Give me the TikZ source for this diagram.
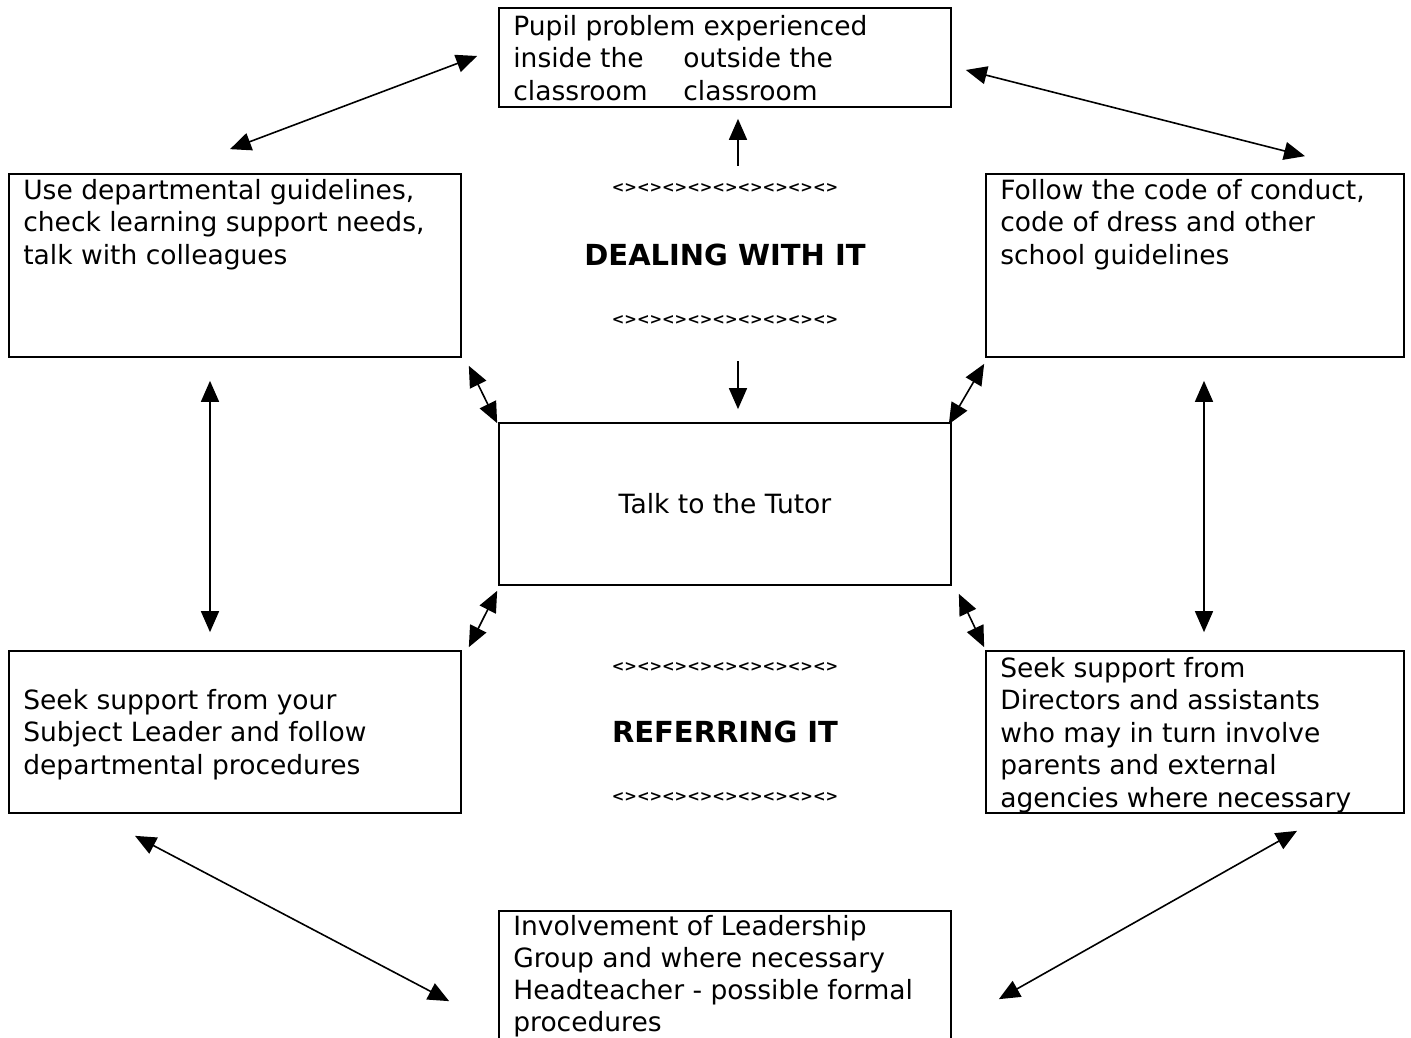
\documentclass[tikz,border=0pt]{standalone}
\usepackage{fontspec}
\setmainfont{DejaVu Sans}
\usetikzlibrary{arrows.meta,positioning}

\tikzset{
  panel/.style={draw, line width=1.7pt, inner sep=0pt, minimum width=452pt},
  txt/.style={inner sep=0pt, align=left, anchor=north west},
  heading/.style={inner sep=0pt, font=\fontsize{29}{32}\selectfont\bfseries},
  deco/.style={inner sep=0pt, font=\fontsize{15}{16}\selectfont\bfseries},
  link/.style={line width=1.6pt, {Triangle[length=21pt,width=18pt]}-{Triangle[length=21pt,width=18pt]}},
  oneway/.style={line width=1.6pt, -{Triangle[length=21pt,width=18pt]}}
}

\begin{document}
\begin{tikzpicture}[x=1pt, y=-1pt, font=\fontsize{26.5}{32.5}\selectfont]
  \useasboundingbox (0,0) rectangle (1411,1038);

  % boxes
  \node[panel, minimum height=99pt] (pupil) at (725,57.5) {};
  \node[panel, minimum height=183pt] (guides) at (235,265.5) {};
  \node[panel, minimum height=183pt, minimum width=418pt] (conduct) at (1195,265.5) {};
  \node[panel, minimum height=162pt] (tutor) at (725,504) {Talk to the Tutor};
  \node[panel, minimum height=162pt] (subject) at (235,732) {};
  \node[panel, minimum height=162pt, minimum width=418pt] (directors) at (1195,732) {};
  \node[panel, minimum height=160pt] (leaders) at (725,991) {};

  % box texts
  \node[txt] (pupiltxt) at ([shift={(15,8)}]pupil.north west)
    {Pupil problem experienced\\
     \makebox[170pt][l]{inside the}outside the\\
     \makebox[170pt][l]{classroom}classroom};
  \node[txt] (guidestxt) at ([shift={(15,6)}]guides.north west)
    {Use departmental guidelines,\\check learning support needs,\\talk with colleagues};
  \node[txt] (conducttxt) at ([shift={(15,6)}]conduct.north west)
    {Follow the code of conduct,\\code of dress and other\\school guidelines};
  \node[txt] (subjecttxt) at ([shift={(15,39)}]subject.north west)
    {Seek support from your\\Subject Leader and follow\\departmental procedures};
  \node[txt] (directorstxt) at ([shift={(15,7)}]directors.north west)
    {Seek support from\\Directors and assistants\\who may in turn involve\\parents and external\\agencies where necessary};
  \node[txt, font=\fontsize{26.5}{32}\selectfont] (leaderstxt) at ([shift={(15,5)}]leaders.north west)
    {Involvement of Leadership\\Group and where necessary\\Headteacher - possible formal\\procedures};

  % middle labels
  \node[heading] (dealing) at (725,255) {DEALING WITH IT};
  \node[deco] (decoa) at (725,188) {<><><><><><><><><>};
  \node[deco] (decob) at (725,320) {<><><><><><><><><>};
  \node[heading] (referring) at (725,732) {REFERRING IT};
  \node[deco] (decoc) at (725,667) {<><><><><><><><><>};
  \node[deco] (decod) at (725,797) {<><><><><><><><><>};

  % arrows
  \draw[oneway] ([shift={(13,58)}]pupil.south) -- ([shift={(13,11)}]pupil.south);
  \draw[oneway] ([shift={(13,-61)}]tutor.north) -- ([shift={(13,-13)}]tutor.north);
  \draw[link] ([shift={(-5,-24)}]guides.north) -- ([shift={(-21,-1.5)}]pupil.west);
  \draw[link] ([shift={(14,12.5)}]pupil.east) -- ([shift={(110,-17)}]conduct.north);
  \draw[link] ([shift={(-25,23)}]guides.south) -- ([shift={(-25,-18)}]subject.north);
  \draw[link] ([shift={(9,23)}]conduct.south) -- ([shift={(9,-18)}]directors.north);
  \draw[link] ([shift={(7,8)}]guides.south east) -- ([shift={(-1,1)}]tutor.north west);
  \draw[link] ([shift={(-1,6)}]conduct.south west) -- ([shift={(-3,2)}]tutor.north east);
  \draw[link] ([shift={(7,-3)}]subject.north east) -- ([shift={(-1,5)}]tutor.south west);
  \draw[link] ([shift={(7,8)}]tutor.south east) -- ([shift={(-1,-3)}]directors.north west);
  \draw[link] ([shift={(-100,22)}]subject.south) -- ([shift={(-49,91)}]leaders.north west);
  \draw[link] ([shift={(102,17)}]directors.south) -- ([shift={(47,89)}]leaders.north east);
\end{tikzpicture}
\end{document}
